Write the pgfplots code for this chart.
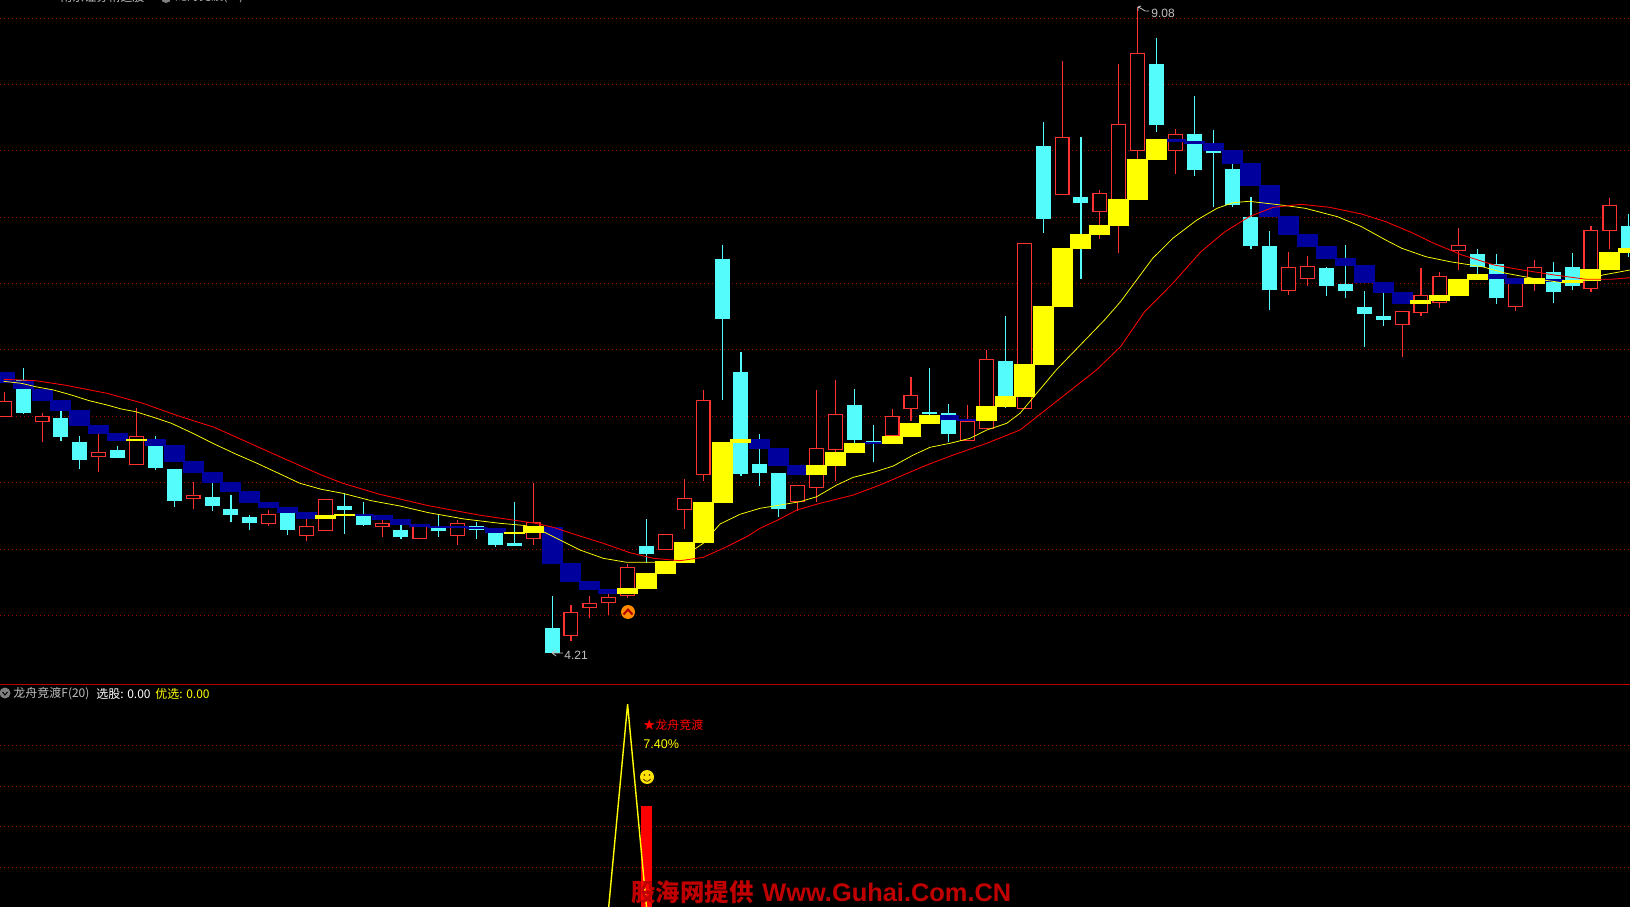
\documentclass[border=0pt]{standalone}
\usepackage{fontspec}
\usepackage{pgfplots}
\usepackage{pgfplotstable}
\pgfplotsset{compat=1.18}
\setmainfont{Liberation Sans}
\newfontfamily\cjk{Noto Sans CJK SC}
\definecolor{cyanc}{HTML}{54FCFC}
\definecolor{redc}{HTML}{FF3232}
\definecolor{blueb}{HTML}{00009C}
\definecolor{yelb}{HTML}{FFFF00}
\definecolor{gridc}{HTML}{A00000}
\definecolor{divc}{HTML}{C00000}
\definecolor{greyt}{HTML}{C0C0C0}
\definecolor{wm}{HTML}{C00000}

% i = bar number; h, t, b, l = wick high, body top, body bottom, wick low (picture rows)
\pgfplotstableread{
i h t b l
0 392 401.3 416.7 416.7
2 413.3 416.3 421.7 442
5 434 452.3 456.7 472
7 408 436.3 465 465
10 482.3 495 499 509
14 510 514 524 526
16 519 526 536 541
17 499 499 531 531
20 520 523 527 537
22 524 524 539 539
24 520 523 536 545
28 483 522 539 545
30 605.3 611.7 635.7 640.7
31 596.3 603.3 607.7 617.7
32 594 596.7 602.7 615
33 564.3 567.3 595.7 597.7
35 534.3 534.3 549.7 549.7
36 479.3 498.3 509.7 529
37 390 400.3 474.7 481
42 485 485.3 502 511
43 390 448.3 487.7 502
44 380 414.3 449.7 481
47 409.3 416.3 436 440
48 377.3 395.3 408.7 421
51 405 421 441.3 441.3
52 350 359.3 428.7 428.7
54 243 243 408.7 408.7
56 61 137.3 194.7 194.7
58 190 193.3 211.7 239
59 64 124.3 206.7 253
60 7 53.3 150.7 160
62 129 134.3 150.7 174
68 252 267.3 290.7 295
69 256 266.3 278.7 286
74 311.3 311.3 324.7 357
75 268 295.3 312.7 316
76 272 276.3 302.7 308
77 228 245.3 250.7 270
80 280 281.7 306.7 311
81 260 267.3 284.3 291
84 226 230.3 288.7 292
85 198 205.3 230.7 249
}\redcandles
\pgfplotstableread{
i h t b l
1 368 380 413 414
3 411 418 437 441
4 436 442 460 469
6 446 450 458 458
8 436 446 468 470
9 469 469 501 507
11 483.3 497 506 511
12 495 509 515 522
13 515 517 523 530
15 513 513 530 535
18 493 506 510 534
19 502 516 525 526
21 525 530 537 539
23 514 527 531 537
25 522 526 530 539
26 533 533 545 547
27 502 543 546 546
29 596 628 653 653
34 519 546 554 563.3
38 245 259 319 400
39 352 372 474 476
40 434 464 473 486
41 473 473 509 517
45 389 405 440 443
46 425 441 443 462
49 368 412 413 415
50 404 413 434 442
53 316 361 396 408
55 122 146 219 233
57 137 197 203 279
61 38 64 125 132
63 96 134.3 170 176
64 130 151 153 207
65 164 169 205 207
66 197 217.3 246 249
67 231 246 290 310
70 266.7 268 286 296
71 245 284 291 298
72 291 307 314 347
73 293.3 316 320 326
78 249 254 267 275
79 254 264 298 304
82 262 272 292 303
83 253 267 286 290
86 214 226 248 257
}\cyancandles
\pgfplotstableread{
i t b
0 372 382.7
1 381.3 389
2 389 401
3 400 411
4 410 426
5 425 434
6 433 441
8 439 446
9 445 462
10 461 473.3
11 472 483.3
12 482 492
13 491 503
14 502 508
15 507 513
16 512 519
19 514 516
20 515 520
21 519 525
22 524 527
23 526 528
24 526 528
25 526.7 529
26 528 533
29 527 564
30 563 582
31 581 590
32 589 594
40 439 449
41 448 466
42 465 475
46 442 444
50 415 420
51 419 421
62 139 142
63 141 144
64 143 151
65 150 164
66 163 186
67 185 217
68 216 235
69 234 247
70 246 259
71 258 266
72 265 283
73 282 293
74 292 304
79 274 279
80 278 284
82 279 282
}\bluebricks
\pgfplotstableread{
i t b
7 439 441
17 515 519
18 514 516
27 532 533
28 526 532.7
33 588 594
34 573 589
35 561 574
36 542 563
37 502 543
38 442 503
39 439 443
43 465 475
44 452 466
45 443 453
47 436 444
48 423 437
49 415 424
52 406 421
53 396 407
54 364 397
55 306 365
56 248 307
57 234 249
58 225 235
59 199 226
60 159 200
61 139 160
75 300 304
76 295 301
77 279 296
78 274 280
81 278 284
83 280 283
84 269 281
85 252 270
86 248 253
}\yellowbricks
\pgfplotstableread{
x y
3.6 381.3
21.4 383.3
35.7 386.7
53.6 390
71.4 395
89.3 400.7
107.1 405
121.4 409
135.7 411.7
153.6 417.3
171.4 423.3
192.9 433.3
214.3 444
235.7 454
257.1 463.3
278.6 473.3
300 483.3
321.4 489.3
342.9 493.3
371.4 500.7
400 506
428.6 512.7
464.3 519
500 523.3
525 525.5
540 530
560 540
580 550
603.3 558.3
626.7 562.3
653.3 562.3
673.3 561.7
693.3 550
703.3 543.3
720 524
740 514.3
760 508.3
780 505
800 501.7
816.7 496.7
836.7 485
853.3 477.3
873.3 472.3
893.3 466
913.3 455
930 447.3
950 443.3
970 438.3
986.7 430
1006.7 423.3
1020 413.3
1056.2 370
1072.3 353.3
1104.5 320
1120.5 301.7
1136.6 280
1152.7 258.3
1172.8 238.3
1196.9 220
1217 208.3
1233 202.7
1249.1 201.3
1281.2 205
1305.3 208.3
1337.5 216.7
1361.6 226.7
1385.7 240
1401.8 248.3
1425.9 256.7
1450 261.7
1482.1 266.7
1506.2 273.3
1538.4 279.3
1562.5 282.7
1586.6 280
1602.7 275
1630 270
}\yellowline
\pgfplotstableread{
x y
3.6 379.3
35.7 380.7
64.3 385
107.1 393.3
142.9 403.3
178.6 416
214.3 427.3
250 443.3
285.7 459.3
321.4 475
342.9 483.3
378.6 494
428.6 505.7
478.6 515
535.7 523.3
553.3 527.3
576.7 535
603.3 543.3
630 552.7
653.3 558.3
680 560.7
703.3 557.3
726.7 546.7
746.7 536.7
760 528.3
780 519
796.7 510
820 503.3
853.3 495
880 485
903.3 475
926.7 465
953.3 455
986.7 443.3
1020 430
1096.4 370
1120.5 346.7
1144.6 311.7
1172.8 283.3
1200.9 251.7
1225 231.7
1249.1 216.7
1273.2 207.3
1301.3 204.3
1329.5 207.3
1361.6 214
1385.7 221.7
1409.8 231.7
1433.9 243.3
1462 255
1494.2 265
1522.3 270
1554.4 275
1586.6 279.3
1610.7 279.3
1630 277.7
}\redline

\newcommand{\cx}{4.3+18.889*\thisrow{i}}
\pgfplotsset{
  wick/.style={forget plot,draw=none,mark=none,
    error bars/.cd,y dir=both,y explicit,error mark=none,
    error bar style={draw=#1,line width=0.55pt,solid}},
  body/.style 2 args={forget plot,draw=none,mark=none,
    error bars/.cd,y dir=both,y explicit,error mark=none,
    error bar style={draw=#1,line width=#2,solid}},
}

\begin{document}
\begin{tikzpicture}
\fill[black] (0,0) rectangle (815pt,453.5pt);
\begin{axis}[
  at={(0,0)},anchor=south west,
  width=815pt,height=453.5pt,scale only axis,
  xmin=0,xmax=1630,ymin=0,ymax=907,y dir=reverse,
  axis line style={draw=none},
  tick style={draw=none},
  xtick=\empty,
  ytick={18.3,84.3,150.3,217.3,283.3,349.3,416.3,482.3,549.3,615.5,745.3,786.3,826.3,867.3},
  yticklabels=\empty,
  ymajorgrids,
  major grid style={color=gridc,line width=0.5pt,dash pattern=on 0.5pt off 1.5pt},
  clip=true,
]
% wicks
\addplot[wick=redc] table[x expr=\cx,y expr=(\thisrow{h}+\thisrow{l})/2,y error expr=(\thisrow{l}-\thisrow{h})/2] {\redcandles};
\addplot[wick=cyanc] table[x expr=\cx,y expr=(\thisrow{h}+\thisrow{l})/2,y error expr=(\thisrow{l}-\thisrow{h})/2] {\cyancandles};
% bodies
\addplot[body={redc}{7.5pt}] table[x expr=\cx,y expr=(\thisrow{t}+\thisrow{b})/2,y error expr=(\thisrow{b}-\thisrow{t})/2] {\redcandles};
\addplot[body={black}{6.3pt}] table[x expr=\cx,y expr=(\thisrow{t}+\thisrow{b})/2,y error expr=(\thisrow{b}-\thisrow{t})/2-1.1] {\redcandles};
\addplot[body={cyanc}{7.5pt}] table[x expr=\cx,y expr=(\thisrow{t}+\thisrow{b})/2,y error expr=(\thisrow{b}-\thisrow{t})/2] {\cyancandles};
% bricks
\addplot[body={blueb}{10.5pt}] table[x expr=\cx,y expr=(\thisrow{t}+\thisrow{b})/2,y error expr=(\thisrow{b}-\thisrow{t})/2] {\bluebricks};
\addplot[body={yelb}{10.5pt}] table[x expr=\cx,y expr=(\thisrow{t}+\thisrow{b})/2,y error expr=(\thisrow{b}-\thisrow{t})/2] {\yellowbricks};
% averages
\addplot[forget plot,color=yelb,line width=0.38pt,mark=none] table[x=x,y=y] {\yellowline};
\addplot[forget plot,color=red,line width=0.42pt,mark=none] table[x=x,y=y] {\redline};
% panel divider
\addplot[forget plot,color=divc,line width=0.6pt,mark=none] coordinates {(0,684.3)(1630,684.3)};
% lower panel
\addplot[forget plot,color=red,line width=5.5pt,mark=none] coordinates {(646.9,806)(646.9,907)};
\addplot[forget plot,color=yelb,line width=0.7pt,mark=none] coordinates {(608.7,907)(627.6,704.3)(646.5,907)};
\end{axis}
% annotations
\begin{scope}[x=0.5pt,y=-0.5pt,shift={(0,453.5pt)}]
\node[anchor=west,inner sep=0,text=greyt,font=\fontsize{6}{7}\selectfont] at (564,655.5) {4.21};
\draw[greyt,line width=0.4pt] (552,653) -- (563,653) (552,653) -- (556,650) (552,653) -- (556,656);
\node[anchor=west,inner sep=0,text=greyt,font=\fontsize{6}{7}\selectfont] at (1151,13) {9.08};
\draw[greyt,line width=0.4pt] (1138,7) -- (1142,9) -- (1145,11) -- (1149,11) (1138,7) -- (1141,6) (1138,7) -- (1138,11);
% icons
\fill[orange!90!yellow] (628,612) circle (7);
\draw[red!70!black,line width=1pt] (623.5,614.5) -- (628,609.5) -- (632.5,614.5);
\fill[yellow!85!orange] (647,777) circle (7);
\fill[black!70!orange] (644.5,775) circle (0.9) (649.5,775) circle (0.9);
\draw[black!70!orange,line width=0.4pt] (643.5,779) .. controls (645,782) and (649,782) .. (650.5,779);
\fill[gray] (5,693) circle (5.5);
\draw[black,line width=0.5pt] (2.5,692) -- (5,695) -- (7.5,692);
% texts
\node[anchor=west,inner sep=0,text=greyt,font=\cjk\fontsize{6}{7}\selectfont] at (13,694) {龙舟竞渡F(20)};
\node[anchor=west,inner sep=0,text=white,font=\cjk\fontsize{6}{7}\selectfont] at (96,694) {选股: 0.00};
\node[anchor=west,inner sep=0,text=yelb,font=\cjk\fontsize{6}{7}\selectfont] at (155,694) {优选: 0.00};
\node[anchor=west,inner sep=0,text=red,font=\cjk\fontsize{6}{7}\selectfont] at (643,725) {★龙舟竞渡};
\node[anchor=west,inner sep=0,text=yelb,font=\fontsize{6.3}{7}\selectfont] at (643,744) {7.40\%};
\node[anchor=west,inner sep=0,text=greyt,font=\cjk\fontsize{6}{7}\selectfont] at (60,-3) {南京证券精选股};
\fill[gray] (166,-2) circle (5);
\node[anchor=west,inner sep=0,text=greyt,font=\cjk\fontsize{6}{7}\selectfont] at (175,-3) {龙舟竞渡(·)};
\node[anchor=west,inner sep=0,text=wm,font=\cjk\bfseries\fontsize{12.2}{14}\selectfont] at (631,892) {股海网提供};
\node[anchor=west,inner sep=0,text=wm,font=\bfseries\fontsize{12.7}{14}\selectfont] at (762,892) {Www.Guhai.Com.CN};
\end{scope}
\pgfresetboundingbox
\path[use as bounding box] (0,0) rectangle (815pt,453.5pt);
\end{tikzpicture}
\end{document}
